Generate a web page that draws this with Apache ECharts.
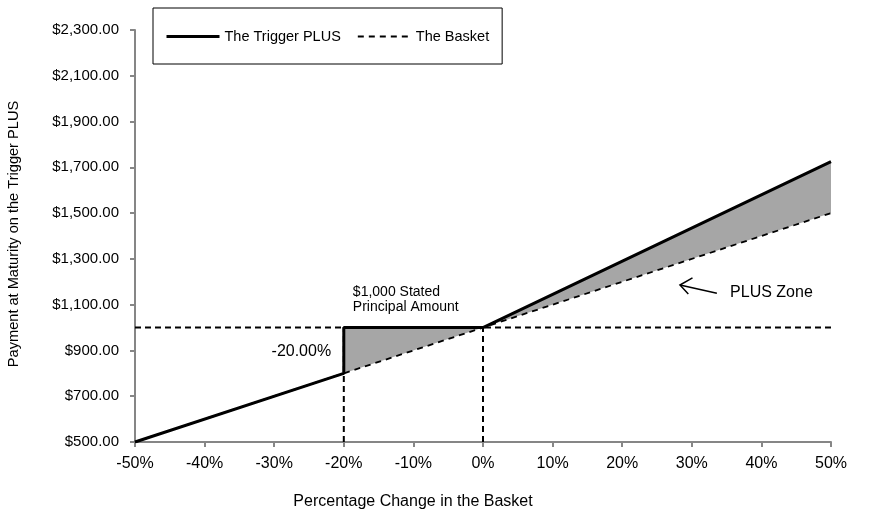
<!DOCTYPE html>
<html>
<head>
<meta charset="utf-8">
<script src="https://cdn.jsdelivr.net/npm/echarts@6/dist/echarts.min.js"></script>
<style>html,body{margin:0;padding:0;background:#fff}#c{width:885px;height:518px}</style>
</head>
<body>
<div id="c"></div>
<script>
// ---- data ----
const xTicks = [-50, -40, -30, -20, -10, 0, 10, 20, 30, 40, 50];
const yTicks = [500, 700, 900, 1100, 1300, 1500, 1700, 1900, 2100, 2300];
const triggerX = [-50, -20, -20, 0, 50];
const triggerY = [500, 800, 1000, 1000, 1725];
const basketX = [-50, -20, 0, 50];
const basketY = [500, 800, 1000, 1500];
const zoneX = [-20, 0, 50];
const zoneBasket = [800, 1000, 1500];
const zoneTrigger = [1000, 1000, 1725];
const principal = 1000;
const thresholdX = [-20, 0];
const seriesNames = ['The Trigger PLUS', 'The Basket'];
const xTitle = 'Percentage Change in the Basket';
const yTitle = 'Payment at Maturity on the Trigger PLUS';
const noteStated = ['$1,000 Stated', 'Principal Amount'];
const noteThreshold = '-20.00%';
const noteZone = 'PLUS Zone';

const font = '"Liberation Sans", Arial, sans-serif';
const pair = (xs, ys) => xs.map((x, i) => [x, ys[i]]);

const chart = echarts.init(document.getElementById('c'), null, {renderer: 'canvas'});
const option = {
  animation: false,
  backgroundColor: '#fff',
  textStyle: {fontFamily: font, color: '#000'},
  grid: {left: 135, right: 54, top: 30, bottom: 76, containLabel: false},
  legend: {
    data: [
      {name: seriesNames[0], lineStyle: {width: 3, color: '#000'}},
      {name: seriesNames[1], lineStyle: {width: 2, color: '#000', type: [6, 5]}}
    ],
    left: 153, top: 8,
    padding: [21, 13, 20, 12],
    itemWidth: 53, itemHeight: 14, itemGap: 16,
    borderColor: '#000', borderWidth: 1,
    itemStyle: {opacity: 0},
    textStyle: {fontFamily: font, fontSize: 14.5, color: '#000'}
  },
  xAxis: {
    type: 'value', min: -50, max: 50, interval: 10,
    axisLine: {onZero: false, lineStyle: {color: '#868686', width: 2}},
    axisTick: {show: true, length: 5, lineStyle: {color: '#868686', width: 2}},
    splitLine: {show: false},
    axisLabel: {formatter: v => v + '%', fontSize: 16, color: '#000', margin: 14, fontFamily: font}
  },
  yAxis: {
    type: 'value', min: 500, max: 2300, interval: 200,
    axisLine: {show: true, onZero: false, lineStyle: {color: '#868686', width: 2}},
    axisTick: {show: true, length: 5, lineStyle: {color: '#868686', width: 2}},
    splitLine: {show: false},
    axisLabel: {
      formatter: v => '$' + v.toLocaleString('en-US', {minimumFractionDigits: 2, maximumFractionDigits: 2}),
      fontSize: 15, color: '#000', margin: 16, fontFamily: font
    }
  },
  series: [
    {name: 'zoneFill', type: 'custom', silent: true, z: 1,
      data: [0],
      renderItem: function (params, api) {
        const upper = zoneX.map((x, i) => api.coord([x, zoneTrigger[i]]));
        const lower = zoneX.map((x, i) => api.coord([x, zoneBasket[i]])).reverse();
        return {type: 'polygon', shape: {points: upper.concat(lower)}, style: {fill: '#a6a6a6', stroke: null}};
      }
    },
    {name: 'principalLine', type: 'line', data: [[-50, principal], [50, principal]],
      symbol: 'none', lineStyle: {color: '#000', width: 2, type: [6, 4]}, z: 2},
    {name: 'thresholdLine1', type: 'line', data: [[thresholdX[0], 500], [thresholdX[0], principal]],
      symbol: 'none', lineStyle: {color: '#000', width: 2, type: [6, 4]}, z: 2},
    {name: 'thresholdLine2', type: 'line', data: [[thresholdX[1], 500], [thresholdX[1], principal]],
      symbol: 'none', lineStyle: {color: '#000', width: 2, type: [6, 4]}, z: 2},
    {name: seriesNames[1], type: 'line', data: pair(basketX, basketY),
      symbol: 'none', lineStyle: {color: '#000', width: 1.8, type: [6, 5]}, itemStyle: {color: '#000'}, z: 3},
    {name: seriesNames[0], type: 'line', data: pair(triggerX, triggerY),
      symbol: 'none', lineStyle: {color: '#000', width: 3}, itemStyle: {color: '#000'}, z: 4}
  ]
};
chart.setOption(option);

const px = (x, y) => chart.convertToPixel({gridIndex: 0}, [x, y]);
const pStated = px(-18.7, 1115);
const pThr = px(-26.1, 893);
const pZone = px(35.5, 1152);
const tip = px(28.3, 1186);
const tail = px(33.6, 1150);
const arm1 = px(30.1, 1217);
const arm2 = px(29.5, 1147);

chart.setOption({
  graphic: [
    {type: 'text', left: pStated[0], top: pStated[1] - 17, style: {text: noteStated.join('\n'), font: '14px ' + font, fill: '#000', lineHeight: 15}},
    {type: 'text', x: pThr[0], y: pThr[1], style: {text: noteThreshold, font: '16px ' + font, fill: '#000', align: 'center', verticalAlign: 'middle'}},
    {type: 'text', x: pZone[0], y: pZone[1], style: {text: noteZone, font: '16px ' + font, fill: '#000', align: 'left', verticalAlign: 'middle'}},
    {type: 'line', shape: {x1: tail[0], y1: tail[1], x2: tip[0], y2: tip[1]}, style: {stroke: '#000', lineWidth: 1.5}},
    {type: 'polyline', shape: {points: [arm1, tip, arm2]}, style: {stroke: '#000', lineWidth: 1.5, fill: null}},
    {type: 'text', x: 413, y: 502, style: {text: xTitle, font: '16px ' + font, fill: '#000', align: 'center', verticalAlign: 'middle'}},
    {type: 'text', x: 14, y: 234, rotation: Math.PI / 2, style: {text: yTitle, font: '14.6px ' + font, fill: '#000', align: 'center', verticalAlign: 'middle'}}
  ]
});
</script>
</body>
</html>
